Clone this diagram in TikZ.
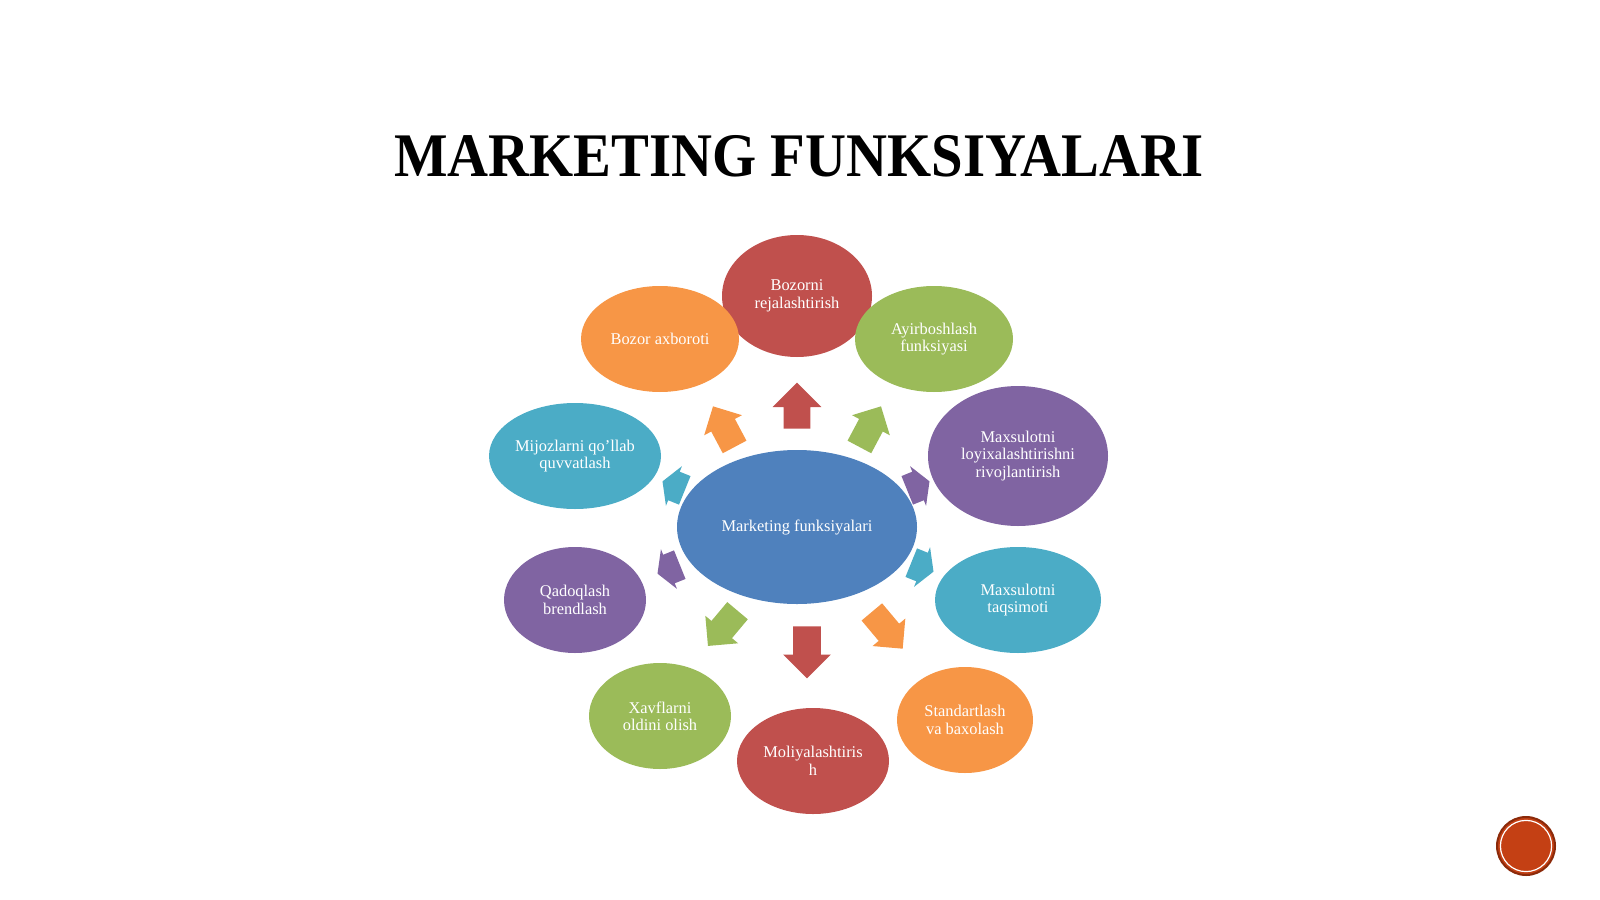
\documentclass[tikz,border=0pt]{standalone}
\usepackage{fontspec}
\setmainfont{Liberation Serif}
\usetikzlibrary{shapes.geometric,shapes.arrows,calc}
\definecolor{mred}{HTML}{C0504D}
\definecolor{morange}{HTML}{F79646}
\definecolor{mgreen}{HTML}{9BBB59}
\definecolor{mpurple}{HTML}{8064A2}
\definecolor{mteal}{HTML}{4BACC6}
\definecolor{mblue}{HTML}{4F81BD}
\definecolor{pagered}{HTML}{C44014}
\definecolor{pagerim}{HTML}{8B2A0A}
\tikzset{
  func/.style={ellipse, inner sep=0pt, text=white, align=center,
    font=\fontsize{8.2}{8.7}\selectfont},
  blk/.style={single arrow, draw=none, inner xsep=0pt, anchor=tail}
}
\begin{document}
\begin{tikzpicture}[x=0.5pt,y=-0.5pt]
\useasboundingbox (0,0) rectangle (1600,899);
\node[font=\bfseries\fontsize{31}{31}\selectfont] (title) at (799,156)
  {\scalebox{0.915}[1]{MARKETING FUNKSIYALARI}};
\node[func, fill=mblue, minimum width=120pt, minimum height=77pt] (centre) at (797,527) {Marketing funksiyalari};
\node[func, fill=mred, minimum width=75pt, minimum height=61pt] (plan) at (797,296) {Bozorni\\rejalashtirish};
\node[func, fill=mgreen, minimum width=79pt, minimum height=53pt] (swap) at (934,339) {Ayirboshlash\\funksiyasi};
\node[func, fill=mpurple, minimum width=90pt, minimum height=70pt] (design) at (1018,456) {Maxsulotni\\loyixalashtirishni\\rivojlantirish};
\node[func, fill=mteal, minimum width=83pt, minimum height=53pt] (distr) at (1018,600) {Maxsulotni\\taqsimoti};
\node[func, fill=morange, minimum width=68pt, minimum height=53pt] (stand) at (965,720) {Standartlash\\va baxolash};
\node[func, fill=mred, minimum width=76pt, minimum height=53pt] (finance) at (813,761) {Moliyalashtiris\\h};
\node[func, fill=mgreen, minimum width=71pt, minimum height=53pt] (risk) at (660,716) {Xavflarni\\oldini olish};
\node[func, fill=mpurple, minimum width=71pt, minimum height=53pt] (pack) at (575,600) {Qadoqlash\\brendlash};
\node[func, fill=mteal, minimum width=86pt, minimum height=53pt] (support) at (575,456) {Mijozlarni qo'llab\\quvvatlash};
\node[func, fill=morange, minimum width=79pt, minimum height=53pt] (info) at (660,339) {Bozor axboroti};
\foreach \c/\x/\y/\a/\l/\s/\e/\t [count=\i] in {
  mred/797/406/90/23/6.5/5.5/90,
  morange/724/427/118/23/6.5/4/90,
  mgreen/870/427/62/23/6.5/4/90,
  mpurple/918/486/22/12/7.5/3/120,
  mteal/922/567/-22/12/7.5/3/120,
  morange/887/630/-50/24/6.5/4/90,
  mred/807/652/-90/26/6.75/5/90,
  mgreen/723/628/-130/23/6.5/4/90,
  mpurple/669/569/-158/12/7.5/3/120,
  mteal/674/486/158/12/7.5/3/120}
  \node[blk, fill=\c, rotate=\a, minimum height=\l pt, inner ysep=\s pt,
    single arrow head extend=\e pt, single arrow tip angle=\t]
    (arr\i) at ($(\x,\y)+(\a+180:\l pt/2)$) {};
\node[circle, fill=pagered, draw=pagerim, line width=1pt, minimum size=29pt] (page) at (1526,846) {};
\draw[white, line width=0.6pt] (page.center) circle (12.8pt);
\end{tikzpicture}
\end{document}
